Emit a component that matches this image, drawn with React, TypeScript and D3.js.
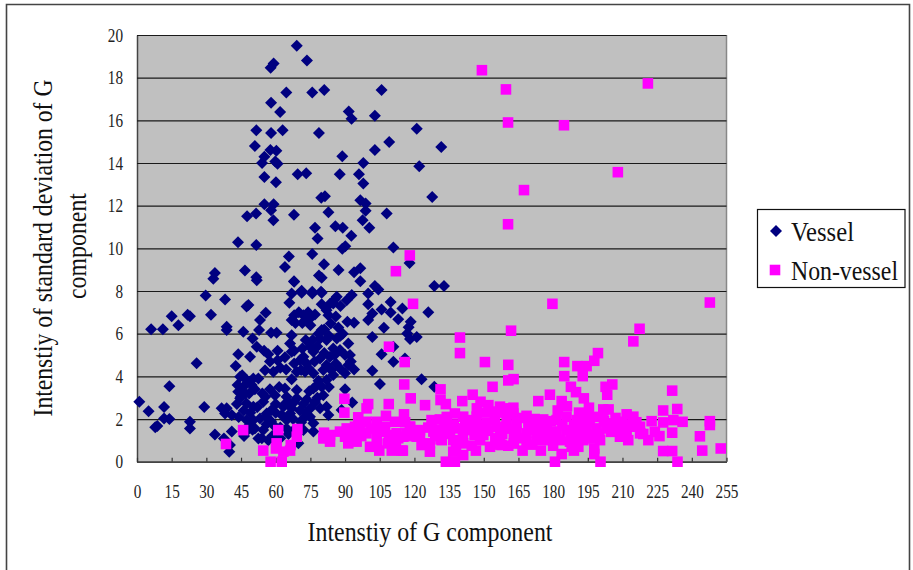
import React, { useEffect, useRef } from 'react';
import * as d3 from 'd3';

const xTicks = d3.range(0, 256, 15);
const yTicks = d3.range(0, 21, 2);

const vessel: [number, number][] = [
  [69.1, 19.5], [73.5, 18.81], [59.1, 18.66], [57.8, 18.47], [64.6, 17.3], [75.8, 17.3], [81, 17.42], [105.8, 17.42],
  [58, 16.82], [61.9, 16.39], [91.6, 16.41], [92.8, 16.08], [102.9, 16.21], [51.6, 15.53], [58, 15.41], [63, 15.53],
  [78.7, 15.41], [121, 15.6], [109.1, 14.99], [102.9, 14.61], [131.6, 14.75], [51, 14.8], [57.7, 14.61], [60.3, 14.57],
  [55.1, 14.29], [54.1, 14], [59.8, 14.07], [60.8, 13.97], [88.8, 14.32], [97.9, 14], [122.1, 13.85], [55.1, 13.35],
  [69.5, 13.47], [73.2, 13.52], [87.7, 13.47], [96, 13.47], [60.1, 13.1], [97.9, 13.04], [127.7, 12.41], [79.7, 12.37],
  [81.3, 12.44], [96.6, 12.26], [98.9, 12.1], [55.1, 12.07], [59.1, 12.07], [58, 11.79], [51.5, 11.63], [47.6, 11.51],
  [67.9, 11.57], [82.8, 11.69], [98.9, 11.76], [108, 11.63], [59, 11.32], [97.6, 11.32], [77, 10.96], [85.8, 11.04],
  [89, 10.96], [100.5, 10.96], [78.1, 10.46], [92.7, 10.59], [43.7, 10.29], [51.6, 10.16], [90.1, 10.1], [88.8, 9.98],
  [110.9, 10.04], [65.7, 9.62], [75.8, 9.74], [117.9, 9.31], [64, 9.13], [80.9, 9.26], [46.7, 8.96], [33.7, 8.85],
  [33, 8.57], [51.6, 8.65], [78.7, 8.73], [79.9, 8.62], [87.2, 8.99], [93.9, 8.88], [96.6, 9.07], [67.9, 8.46],
  [96.6, 8.46], [71.2, 8.01], [102.9, 8.23], [104.4, 8.07], [128.6, 8.23], [132.8, 8.23], [75.8, 7.96], [79.6, 7.96],
  [1, 2.81], [5, 2.37], [11.7, 2.56], [7.9, 1.61], [8.8, 1.67], [11.7, 2.03], [14, 2], [14, 3.54], [22.9, 1.87],
  [22.9, 1.56], [25.8, 4.62], [6.1, 6.21], [11.2, 6.21], [15, 6.82], [17.9, 6.4], [21.9, 6.89], [22.9, 6.82],
  [29.7, 7.79], [32, 6.89], [38.1, 7.6], [38.8, 6.32], [38.8, 6.17], [29.1, 2.56], [33.7, 1.28], [36.6, 2.5],
  [38.8, 2.5], [38.1, 2.26], [41, 2.19], [41, 1.41], [37.6, 1.09], [39.9, 0.47], [40.2, 0.78], [51.8, 8.5], [68, 8.43],
  [48.2, 7.34], [47.4, 7.28], [46, 6.09], [50, 5.78], [51.8, 5.39], [43.8, 5.04], [48.9, 4.92], [42.7, 4.48],
  [55.7, 6.98], [53.2, 6.64], [52.8, 6.17], [58, 6.04], [60.4, 6.04], [66.9, 7.88], [71.2, 7.92], [75.8, 7.88],
  [79.9, 7.92], [65.9, 7.45], [68, 6.87], [66.9, 6.64], [72, 6.87], [73.4, 6.64], [75.6, 6.79], [79.9, 7.38], [82, 7.1],
  [86.4, 7.73], [84.9, 7.42], [92.9, 7.81], [90.7, 7.57], [82.8, 6.87], [83.8, 6.48], [87.1, 6.29], [91, 6.56],
  [93.9, 6.51], [79.9, 6.17], [66.9, 5.93], [66.2, 5.54], [66.9, 5.15], [56.8, 5.04], [60.8, 5.2], [60.8, 4.76],
  [55.4, 4.29], [59, 4.22], [64.5, 4.32], [69.1, 4.22], [72, 4.92], [74.8, 5.39], [76.3, 5.15], [79.2, 5.78], [82, 5.7],
  [86.4, 5.78], [91.4, 5.54], [84.9, 5.31], [87.8, 5.23], [92.1, 5], [83.5, 4.92], [79.2, 4.84], [82, 4.53], [87.8, 4.37],
  [91.4, 4.53], [93.9, 4.32], [90, 4.14], [84.9, 4.06], [76.3, 4.14], [72.7, 4.22], [73.4, 4.6], [70.5, 4.76], [66.9, 3.86],
  [47.4, 3.83], [44.6, 3.98], [50.3, 3.9], [52.5, 3.9], [46, 3.51], [49.6, 3.59], [43.8, 3.28], [44.6, 2.97], [47.4, 2.73],
  [50.3, 2.58], [54.2, 3.2], [59.7, 3.12], [64, 3.43], [69.1, 3.36], [76.3, 3.43], [79.9, 3.51], [82, 3.83], [80.6, 3.12],
  [73.4, 2.92], [69.1, 2.97], [64.7, 3.04], [54.6, 2.81], [58.2, 2.42], [63.3, 2.58], [66.9, 2.5], [79.2, 2.5], [82, 2.58],
  [82.8, 2.19], [90, 3.4], [88.5, 2.42], [93.1, 2.78], [76.3, 1.41], [74.8, 2.11], [72, 2.03], [64.7, 1.95], [62.6, 2.19],
  [53.2, 2.03], [50.3, 1.95], [47.4, 1.95], [51, 1.56], [52.5, 1.09], [56.8, 1.01], [46.3, 1.2], [69.8, 0.86], [76.3, 1.8],
  [64.7, 1.56], [72, 1.48], [54.6, 1.48], [59, 1.72], [66.2, 2.26], [56.1, 2.26], [101.8, 5.85], [105.8, 5.04], [110.9, 5.39],
  [110.9, 4.68], [101.8, 4.26], [105.1, 3.64], [115.9, 4.84], [100, 7.88], [100, 7.38], [101.8, 6.95], [100, 6.64],
  [105.8, 7.13], [109.7, 7.49], [109.7, 6.99], [114.8, 7.18], [113, 6.68], [118.4, 6.56], [106.8, 6.28], [116.9, 6.01],
  [118.1, 5.75], [121, 5.85], [126, 7], [123.1, 3.86], [128.6, 3.51], [117.5, 6.3],
  [43.5, 3.6], [45.5, 4.05], [46.8, 3.2], [48.6, 3.75], [51, 3.4], [45, 3.05], [48.5, 3.2], [43.2, 2.7], [46.2, 2.4],
  [49, 2.3], [52, 2.55], [55.5, 3.05], [57.5, 3.4], [56, 2.1], [58, 1.9], [60, 2.7], [62, 1.6], [61.5, 3.5], [65.5, 2.8],
  [67.5, 2], [68, 1.5], [70.5, 2.4], [73, 2.3], [71, 1.85], [77, 2.8], [78, 3], [74.5, 3.3], [78.5, 3.8], [80.6, 4.3],
  [76.8, 4.7], [74, 4.4], [71, 4.3], [68, 4.6], [77.5, 3.55], [81, 5.1], [83, 5.9], [85.5, 5], [88, 5.9], [90, 5],
  [92.5, 4.7], [86, 4.6], [84, 4.3], [83, 3.5], [78.5, 6], [81, 6.2], [83.5, 7.4], [85.5, 7.6], [88, 7.3], [70, 7], [74, 7],
  [77, 6.9], [68.5, 6.5], [71.5, 6.5], [75, 6.4], [55, 5.2], [57.5, 4.7], [62, 4.4], [64, 4.9], [68, 5.2], [71.5, 5.3],
  [73, 5.7], [76, 5.7], [78, 5.4], [89, 6], [86, 6.8], [50, 1.5], [48, 1.5], [54, 1.1], [58.5, 1.2], [62, 1.1], [65.5, 1.3],
  [68, 2.8], [44, 2.1], [48.5, 1.7], [56, 1.75], [60, 2.3], [64, 2.7], [72, 2.7], [75, 2.5],
];

const nonVessel: [number, number][] = [
  [149.2, 18.35], [159.6, 17.45], [160.5, 15.9], [184.7, 15.77], [221, 17.73], [208, 13.57], [167.4, 12.73], [160.5, 11.13],
  [118, 9.67], [112, 8.93], [119.4, 7.4], [179.7, 7.4], [247.8, 7.46], [217.4, 6.23], [214.7, 5.64], [161.8, 6.14],
  [139.7, 5.82], [139.7, 5.09], [109, 5.39], [115.8, 4.67], [150.5, 4.67], [160.6, 4.54], [184.8, 4.67], [199.4, 5.09],
  [197.8, 4.73], [194.5, 4.48], [190.5, 4.48], [192.8, 4.01], [184.8, 4.01], [162.9, 3.87], [160.6, 3.81], [115.6, 3.62],
  [205.6, 3.62], [202.7, 3.51], [203.4, 3.14], [153.8, 3.51], [131.3, 3.39], [231.5, 3.33], [178.6, 3.14], [187.7, 3.51],
  [189.9, 3.26], [193.3, 2.97], [118.4, 2.97], [124.6, 2.65], [173.6, 2.84], [183.7, 2.84], [145.2, 3.14], [131.3, 2.89],
  [133.6, 2.7], [140.7, 2.84], [148.6, 2.81], [152, 2.65], [157, 2.58], [162.8, 2.53], [195.5, 2.53], [201.7, 2.45],
  [227.6, 2.4], [233.7, 2.47], [211.8, 2.22], [214.7, 2.11], [168.5, 2.15], [175.7, 1.98], [191.2, 2.3], [247.8, 1.9],
  [247.8, 1.72], [222.6, 1.9], [236, 1.87], [232, 1.95], [227.6, 1.84], [243.5, 1.19], [244.5, 0.52], [252.5, 0.62],
  [231.5, 1.36], [227.6, 0.5], [231.5, 0.5], [233.8, 0], [200.5, 0], [180.8, 0], [133.6, 0], [137.5, 0], [115, 0.52],
  [123.1, 0.78], [126.7, 0.47], [126.7, 0.86], [131.3, 1.05], [136.8, 0.47], [141.1, 0.31], [146.6, 0.52], [144.8, 0.75],
  [152.7, 0.7], [157.7, 0.78], [160.6, 0.75], [166.8, 0.52], [174.7, 0.52], [183.7, 0.36], [189, 0.52], [190.9, 0.7],
  [197.8, 0.36], [197.8, 0.62], [200.3, 1.01], [221.2, 1.01], [212.5, 1.01], [208.9, 1.17], [157, 1.25],
  [127.4, 1.95], [131, 1.98], [137.5, 2.26], [141.1, 2.11], [146.9, 2.11], [151.2, 1.8], [154.8, 1.95], [159.9, 2.11],
  [162.8, 2.26], [164.2, 1.8], [169.3, 1.8], [172.9, 1.64], [177.2, 1.64], [181.5, 1.95], [185.8, 2.11], [190.2, 1.95],
  [195.9, 1.87], [201.7, 2.18], [206, 1.8], [209.6, 1.87], [214.7, 1.64], [217.6, 1.64],
  [115.2, 1.17], [118.1, 1.64], [122.4, 1.48], [128.2, 1.41], [135.4, 1.33], [139.7, 1.56], [144, 1.48], [148.4, 1.64],
  [149.8, 1.25], [155.6, 1.64], [159.9, 1.64], [164.2, 1.41], [168.5, 1.33], [172.9, 1.25], [177.2, 1.25], [181.5, 1.41],
  [185.8, 1.48], [190.2, 1.41], [194.5, 1.48], [198.8, 1.56], [203.1, 1.56], [207.5, 1.48], [211.8, 1.41], [217.6, 1.33],
  [116.6, 1.33], [122.4, 1.17], [131.8, 1.01], [136.8, 1.01], [141.1, 0.86], [148.4, 1.01], [157, 1.01], [168.5, 0.94],
  [174.3, 1.01], [178.6, 1.01], [183, 1.01], [187.3, 0.94], [193.1, 1.01], [197.4, 1.09], [209.6, 1.25],
  [38.5, 0.83], [45.9, 1.48], [61.1, 1.48], [69.4, 1.53], [69.1, 1.17], [60.4, 0.86], [54.6, 0.52], [57.8, 0], [62.6, 0],
  [66.5, 0.78], [60.1, 0.62], [63.3, 0.47], [66.2, 0.52], [89.7, 2.95], [89.7, 2.3], [100, 2.7], [99.3, 2.5], [108.9, 2.7],
  [107.7, 2.15], [115.5, 2.22], [95.7, 2.08], [80.9, 1.36], [80.6, 1.09], [83.5, 1.25], [83.5, 0.94], [90, 1.17], [91.4, 0.86],
  [95, 0.94], [90.7, 1.56], [94.3, 1.64], [99.3, 1.87], [103.7, 1.87], [100.8, 0.7], [104.8, 0.52], [110.2, 0.52], [114.5, 0.52],
  [108.7, 0.86], [112.3, 1.33], [107.3, 1.64], [111.6, 1.87], [118.1, 1.64], [121, 1.17], [99.3, 1.33], [103.7, 1.17],
  [93.6, 1.33], [87.8, 1.41],
  [126, 1.6], [130, 1.5], [133, 1.75], [137, 1.75], [141, 1.3], [143.5, 1.95], [146, 1.25], [147, 2.5], [150.5, 2.3],
  [153, 2.35], [156, 2.3], [158, 1.3], [160, 2.5], [163, 1.1], [165.5, 2.05], [166, 1.1], [170.5, 1.5], [172, 2], [174.5, 1.45],
  [176, 1.1], [179, 1.9], [180, 1.4], [182, 2.4], [184, 1.7], [186, 2.6], [187.5, 1.25], [189, 1.7], [191, 1.15], [192.5, 1.75],
  [194, 2.15], [196.5, 1.25], [198, 2.1], [200, 1.3], [202, 1.9], [204, 2.45], [205, 1.4], [207, 2.05], [210, 1.6], [212, 1.75],
  [216, 1.85], [219, 1.3], [224, 1.4], [226, 1.2], [138, 0.75], [142, 1.65], [152, 1.45], [155, 1.1], [162, 1.55], [145, 1.75],
  [134, 2.1], [129, 1.2], [133.5, 1.3], [188, 0.7], [180, 0.75], [171, 0.8], [163, 0.85], [155.5, 0.8],
  [97, 1.2], [101, 1.55], [105, 1.4], [109, 1.25], [113, 1.1], [116, 1.85], [119, 1.2], [92, 1.25], [104, 0.85], [112, 0.75],
  [96.5, 1.65],
];

const serif = '"Liberation Serif", "Times New Roman", serif';

const x = d3.scaleLinear().domain([0, 255]).range([137, 726.5]);
const y = d3.scaleLinear().domain([0, 20]).range([461.7, 35]);

const diamond = d3.symbol().type(d3.symbolSquare).size(72)() as string;
const square = d3.symbol().type(d3.symbolSquare).size(112)() as string;

export default function App() {
  const xAxisRef = useRef<SVGGElement>(null);
  const yAxisRef = useRef<SVGGElement>(null);

  useEffect(() => {
    const xAxis = d3.select(xAxisRef.current!);
    xAxis.call(d3.axisBottom(x).tickValues(xTicks).tickSizeInner(-4).tickSizeOuter(0).tickPadding(23) as any);
    const yAxis = d3.select(yAxisRef.current!);
    yAxis.call(d3.axisLeft(y).tickValues(yTicks).tickSizeInner(-(726.5 - 137)).tickSizeOuter(0).tickPadding(14) as any);

    yAxis.selectAll('line').attr('stroke', '#1a1a1a').attr('stroke-width', 1.2);
    xAxis.selectAll('line').attr('stroke', '#333').attr('stroke-width', 1.2);
    xAxis.select('.domain').attr('stroke', '#444').attr('stroke-width', 1.5);
    yAxis.select('.domain').attr('stroke', '#444').attr('stroke-width', 1.5);

    [xAxis, yAxis].forEach((axis) => {
      axis.selectAll<SVGTextElement, number>('text')
        .attr('font-family', serif)
        .attr('font-size', 19)
        .attr('fill', '#222')
        .attr('stroke', 'none')
        .attr('lengthAdjust', 'spacingAndGlyphs')
        .attr('textLength', (d) => String(d).length * 7.6);
    });
  }, []);

  return (
    <svg width={913} height={570} style={{ display: 'block', position: 'absolute', left: 0, top: 0 }}>
      <rect x={0} y={0} width={913} height={570} fill="#fff" />
      <path d="M6.5,570 V4.5 H909.5 V570" fill="none" stroke="#444" strokeWidth={1.6} />

      <rect x={137} y={35} width={589.5} height={426.7} fill="#c0c0c0" />
      <line x1={726.5} x2={726.5} y1={35} y2={461.7} stroke="#888" strokeWidth={1.5} />
      <g ref={yAxisRef} transform="translate(137,0)" />
      <g ref={xAxisRef} transform="translate(0,461.7)" />

      <g fill="#000080">
        {vessel.map(([vx, vy], i) => (
          <path key={i} d={diamond} transform={`translate(${x(vx)},${y(vy)}) rotate(45)`} />
        ))}
      </g>
      <g fill="#ff00ff">
        {nonVessel.map(([nx, ny], i) => (
          <path key={i} d={square} transform={`translate(${x(nx)},${y(ny)})`} />
        ))}
      </g>

      <g fontFamily={serif} fill="#111">
        <text x={430} y={541} fontSize={27} textAnchor="middle" textLength={245} lengthAdjust="spacingAndGlyphs">
          Intenstiy of G component
        </text>
        <text transform="translate(52,248) rotate(-90)" fontSize={27} textAnchor="middle" textLength={337} lengthAdjust="spacingAndGlyphs">
          Intenstiy of standard deviation of G
        </text>
        <text transform="translate(86,246) rotate(-90)" fontSize={27} textAnchor="middle" textLength={106} lengthAdjust="spacingAndGlyphs">
          component
        </text>
      </g>

      <rect x={757.5} y={209.5} width={147.5} height={78} fill="#fff" stroke="#111" strokeWidth={1.2} />
      <path d={diamond} transform="translate(776,231) rotate(45)" fill="#000080" />
      <path d={square} transform="translate(775,270)" fill="#ff00ff" />
      <g fontFamily={serif} fontSize={27} fill="#111">
        <text x={791} y={241} textLength={63} lengthAdjust="spacingAndGlyphs">Vessel</text>
        <text x={791} y={280} textLength={107} lengthAdjust="spacingAndGlyphs">Non-vessel</text>
      </g>
    </svg>
  );
}
